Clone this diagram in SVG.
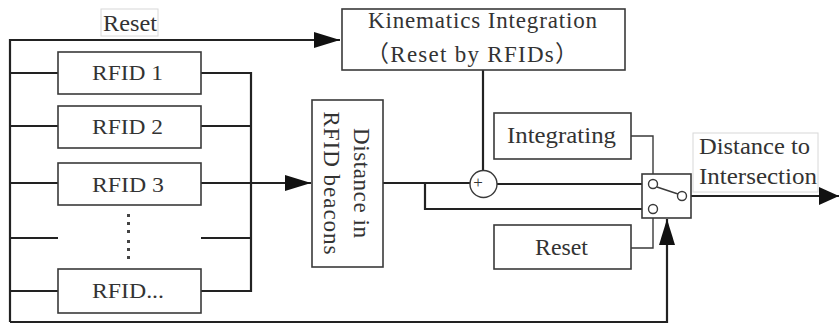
<svg xmlns="http://www.w3.org/2000/svg" width="840" height="324" viewBox="0 0 840 324">
  <defs>
    <style>
      .box { fill: #ffffff; stroke: #3a3a3a; stroke-width: 1.6; }
      .lbl { fill: #ffffff; stroke: #d8d8d8; stroke-width: 1; }
      .wire { fill: none; stroke: #222222; stroke-width: 2.2; }
      .thin { fill: none; stroke: #3a3a3a; stroke-width: 1.4; }
      .node { fill: #ffffff; stroke: #3a3a3a; stroke-width: 1.4; }
      text { font-family: "Liberation Serif", "Noto Sans CJK SC", serif; fill: #333333; }
      .c { text-anchor: middle; }
    </style>
    <marker id="arr" markerUnits="userSpaceOnUse" markerWidth="26" markerHeight="16" refX="26" refY="8" orient="auto">
      <path d="M0,0 L26,8 L0,16 Z" fill="#111111"/>
    </marker>
    <marker id="arrOut" markerUnits="userSpaceOnUse" markerWidth="20" markerHeight="18" refX="20" refY="9" orient="auto">
      <path d="M0,0 L20,9 L0,18 Z" fill="#111111"/>
    </marker>
  </defs>

  <!-- connectors -->
  <g id="connectors">
    <!-- left bus and reset line to the kinematics block -->
    <polyline class="wire" points="10,322 10,40 340,40" marker-end="url(#arr)"/>
    <!-- taps from the left bus into each RFID -->
    <line class="wire" x1="10" y1="73" x2="58" y2="73"/>
    <line class="wire" x1="10" y1="126" x2="58" y2="126"/>
    <line class="wire" x1="10" y1="183" x2="58" y2="183"/>
    <line class="wire" x1="10" y1="238" x2="58" y2="238"/>
    <line class="wire" x1="10" y1="291" x2="58" y2="291"/>
    <!-- right bus collecting RFID outputs -->
    <polyline class="wire" points="201,73 251,73 251,291 201,291"/>
    <line class="wire" x1="201" y1="126" x2="251" y2="126"/>
    <line class="wire" x1="201" y1="183" x2="251" y2="183"/>
    <line class="wire" x1="201" y1="238" x2="251" y2="238"/>
    <line class="wire" x1="251" y1="183" x2="311" y2="183" marker-end="url(#arr)"/>
    <!-- beacon distance to the sum node and switch -->
    <line class="wire" x1="383" y1="183" x2="470" y2="183"/>
    <polyline class="wire" points="425,183 425,209 648.500,209"/>
    <line class="wire" x1="497" y1="184" x2="648.500" y2="184"/>
    <!-- kinematics output into the sum node -->
    <line class="wire" x1="483" y1="70" x2="483" y2="171"/>
    <!-- mode signals to switch contacts -->
    <polyline class="thin" points="631,136 653,136 653,179.500"/>
    <polyline class="thin" points="631,248 653,248 653,213.500"/>
    <!-- switch control from the left bus -->
    <polyline class="wire" points="10,322 667,322 667,219" marker-end="url(#arr)"/>
    <!-- switch output -->
    <line class="wire" x1="686.500" y1="196" x2="839" y2="196" marker-end="url(#arrOut)"/>
  </g>

  <!-- floating label on the reset line -->
  <g id="label-reset">
    <rect class="lbl" x="101" y="9" width="57" height="27"/>
    <text x="103" y="31" font-size="23" textLength="54" lengthAdjust="spacingAndGlyphs">Reset</text>
  </g>

  <g id="kinematics">
    <rect class="box" x="342" y="9" width="283" height="61"/>
    <text x="368" y="28" font-size="23" textLength="229" lengthAdjust="spacing">Kinematics Integration</text>
    <text x="366" y="62" font-size="23" textLength="212" lengthAdjust="spacing">（Reset by RFIDs）</text>
  </g>

  <g id="rfid1">
    <rect class="box" x="58" y="52" width="143" height="42"/>
    <text x="92" y="80" font-size="22" textLength="71" lengthAdjust="spacingAndGlyphs">RFID 1</text>
  </g>
  <g id="rfid2">
    <rect class="box" x="58" y="106" width="143" height="42"/>
    <text x="92" y="134" font-size="22" textLength="71" lengthAdjust="spacingAndGlyphs">RFID 2</text>
  </g>
  <g id="rfid3">
    <rect class="box" x="58" y="163" width="143" height="42"/>
    <text x="92" y="192" font-size="22" textLength="72" lengthAdjust="spacingAndGlyphs">RFID 3</text>
  </g>
  <!-- ellipsis between RFID 3 and the last tag -->
  <g id="rfid-more" fill="#444444">
    <rect x="127" y="214" width="3" height="3"/>
    <rect x="127" y="222" width="3" height="3"/>
    <rect x="127" y="230" width="3" height="3"/>
    <rect x="127" y="240" width="3" height="3"/>
    <rect x="127" y="248" width="3" height="3"/>
    <rect x="127" y="256" width="3" height="3"/>
  </g>
  <g id="rfidN">
    <rect class="box" x="58" y="269" width="143" height="44"/>
    <text x="92" y="298" font-size="22" textLength="72" lengthAdjust="spacingAndGlyphs">RFID...</text>
  </g>

  <g id="beacon-distance">
    <rect class="box" x="312" y="100" width="71" height="167"/>
    <g transform="translate(347,183) rotate(90)">
      <text class="c" x="0" y="-7" font-size="23" textLength="110" lengthAdjust="spacing">Distance in</text>
      <text class="c" x="0" y="23" font-size="23" textLength="143" lengthAdjust="spacing">RFID beacons</text>
    </g>
  </g>

  <g id="sum">
    <circle class="node" cx="483.500" cy="184" r="13.500"/>
    <text class="c" x="478" y="188" font-size="17">+</text>
  </g>

  <g id="integrating">
    <rect class="box" x="494" y="113" width="137" height="46"/>
    <text x="507" y="143" font-size="24" textLength="109" lengthAdjust="spacingAndGlyphs">Integrating</text>
  </g>

  <g id="reset-mode">
    <rect class="box" x="494" y="225" width="137" height="44"/>
    <text x="535" y="255" font-size="23" textLength="53" lengthAdjust="spacingAndGlyphs">Reset</text>
  </g>

  <g id="switch">
    <rect class="box" x="642" y="174" width="49" height="44"/>
    <line class="thin" x1="657" y1="187" x2="678" y2="194"/>
    <circle class="node" cx="653" cy="184" r="4.500"/>
    <circle class="node" cx="653" cy="209" r="4.500"/>
    <circle class="node" cx="682" cy="196" r="4.500"/>
  </g>

  <g id="label-output">
    <rect class="lbl" x="693" y="133" width="125" height="59"/>
    <text x="699" y="154" font-size="24" textLength="111" lengthAdjust="spacingAndGlyphs">Distance to</text>
    <text x="699" y="184" font-size="24" textLength="118" lengthAdjust="spacingAndGlyphs">Intersection</text>
  </g>
</svg>
